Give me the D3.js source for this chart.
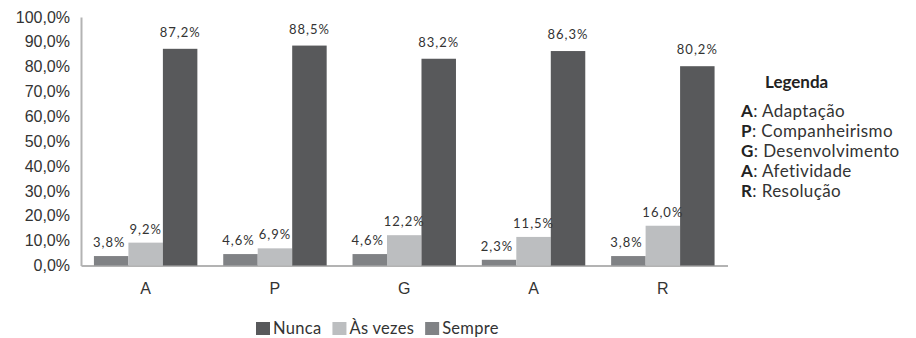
<!DOCTYPE html>
<html>
<head>
<meta charset="utf-8">
<script src="https://d3js.org/d3.v7.min.js"></script>
<style>
body { margin: 0; background: #fff; }
svg { font-family: Lato, "Open Sans", sans-serif; }
.y-axis text, .x-axis text { fill: #333; font-size: 16px; }
.val { fill: #333; font-size: 13px; letter-spacing: 1px; }
</style>
</head>
<body>
<svg id="chart" width="916" height="338"></svg>
<script>
// data
var categories = ["A", "P", "G", "A ", "R"];
var series = ["Nunca", "Às vezes", "Sempre"];
var nunca = [3.8, 4.6, 4.6, 2.3, 3.8];
var asVezes = [9.2, 6.9, 12.2, 11.5, 16.0];
var sempre = [87.2, 88.5, 83.2, 86.3, 80.2];
var yTicks = [0, 10, 20, 30, 40, 50, 60, 70, 80, 90, 100];
var legendTitle = "Legenda";
var legendKeys = ["A", "P", "G", "A", "R"];
var legendNames = ["Adaptação", "Companheirismo", "Desenvolvimento", "Afetividade", "Resolução"];

var barColors = ["#808285", "#bcbec0", "#58595b"];
// the swatches in the original legend do not follow the bar colours
var swatchColors = ["#58595b", "#bcbec0", "#808285"];

var values = [nunca, asVezes, sempre];
var rows = [];
categories.forEach(function(c, i){
	series.forEach(function(s, j){
		rows.push({cat: c, series: s, idx: j, value: values[j][i]});
	});
});

var margin = {top: 17, left: 81};
var width = 646.5;
var height = 248.5;

var svg = d3.select("#chart");
var chart = svg.append("g")
	.attr("transform", "translate(" + margin.left + "," + margin.top + ")");

var x0 = d3.scaleBand().domain(categories).range([0, width])
	.paddingInner(0.2).paddingOuter(0.1);
var x1 = d3.scaleBand().domain(series).range([0, x0.bandwidth()]);
var y = d3.scaleLinear().domain([0, 100]).range([height, 0]);

var fmt = function(v){ return d3.format(".1f")(v).replace(".", ",") + "%"; };

//left axis
var yAxis = chart.append("g").attr("class", "y-axis")
	.call(d3.axisLeft(y).tickValues(yTicks).tickSize(0).tickPadding(11).tickFormat(fmt));
yAxis.select(".domain").attr("stroke", "#b3b3b3").attr("stroke-width", 2);

//bottom axis
var xAxis = chart.append("g").attr("class", "x-axis")
	.attr("transform", "translate(0," + height + ")")
	.call(d3.axisBottom(x0).tickSize(0).tickPadding(17).tickFormat(function(d){ return d.trim(); }));
xAxis.select(".domain").attr("stroke", "#b3b3b3").attr("stroke-width", 2);

//bars
chart.selectAll(".bar").data(rows).enter().append("rect")
	.attr("class", "bar")
	.attr("x", function(d){ return x0(d.cat) + x1(d.series); })
	.attr("y", function(d){ return y(d.value); })
	.attr("width", x1.bandwidth())
	.attr("height", function(d){ return height - y(d.value); })
	.attr("fill", function(d){ return barColors[d.idx]; });

chart.selectAll(".val").data(rows).enter().append("text")
	.attr("class", "val")
	.attr("text-anchor", "middle")
	.attr("x", function(d){ return x0(d.cat) + x1(d.series) + x1.bandwidth() / 2 - (d.idx === 0 ? 2 : 0); })
	.attr("y", function(d){ return y(d.value) - (d.idx === 2 ? 12 : 9); })
	.text(function(d){ return fmt(d.value); });

//legend on the right
var leg = svg.append("g").attr("transform", "translate(741,0)");
leg.append("text").attr("x", 24).attr("y", 88)
	.attr("font-size", 17).attr("font-weight", "bold").attr("fill", "#222")
	.text(legendTitle);
legendKeys.forEach(function(k, i){
	var t = leg.append("text").attr("x", 0).attr("y", 117 + i * 20)
		.attr("font-size", 17).attr("letter-spacing", 0.4).attr("fill", "#333");
	t.append("tspan").attr("font-weight", "bold").attr("fill", "#222").text(k);
	t.append("tspan").text(": " + legendNames[i]);
});

//legend at the bottom
var bl = svg.append("g").attr("transform", "translate(256,0)");
var cx = 0;
series.forEach(function(s, i){
	bl.append("rect").attr("x", cx).attr("y", 322).attr("width", 14).attr("height", 13)
		.attr("fill", swatchColors[i]);
	var t = bl.append("text").attr("x", cx + 17).attr("y", 334)
		.attr("font-size", 16.5).attr("letter-spacing", 0.3).attr("fill", "#333").text(s);
	cx += 17 + t.node().getComputedTextLength() + 11;
});
</script>
</body>
</html>
